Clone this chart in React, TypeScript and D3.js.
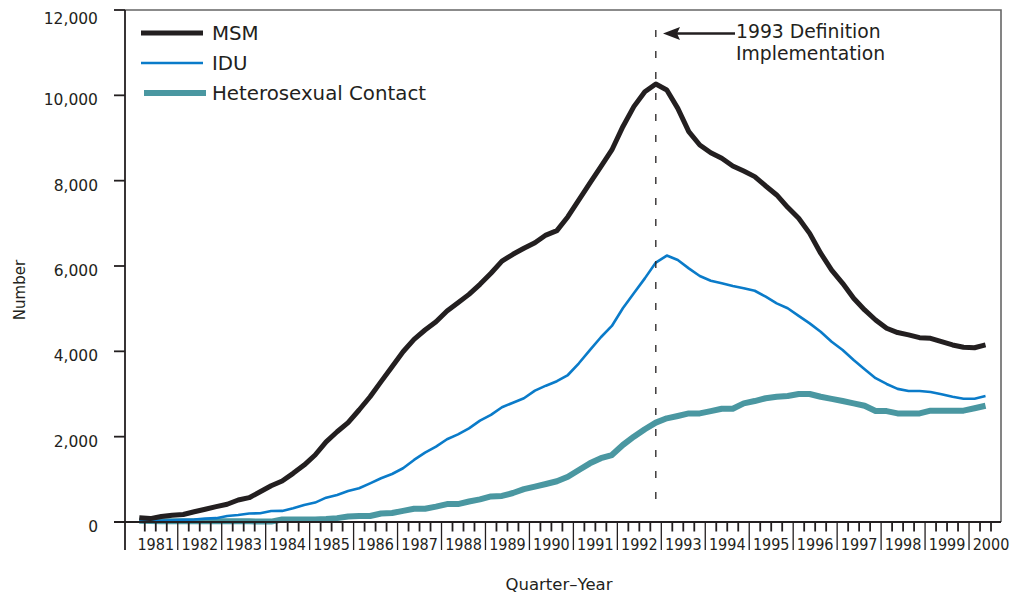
import React from "react";
import * as d3 from "d3";

// quarters from 1981 Q1 to 2000 Q2
const firstYear = 1981;
const msm = [
  100, 80, 130, 160, 175, 240, 300, 360, 415, 515, 570, 710, 850, 960, 1140, 1335,
  1570, 1880, 2115, 2330, 2625, 2935, 3290, 3640, 3990, 4280, 4500, 4695, 4945, 5140,
  5335, 5570, 5830, 6115, 6275, 6415, 6545, 6725, 6830, 7155, 7550, 7940, 8330, 8720,
  9265, 9735, 10085, 10265, 10125, 9695, 9150, 8835, 8655, 8525, 8345, 8225, 8095, 7875,
  7665, 7375, 7120, 6765, 6300, 5905, 5595, 5245, 4970, 4735, 4540, 4440, 4385, 4320,
  4305, 4225, 4150, 4095, 4085, 4150,
];
const idu = [
  20, 20, 30, 40, 50, 60, 80, 90, 140, 165, 200, 205, 258, 260, 320, 400,
  455, 570, 635, 725, 790, 905, 1025, 1125, 1260, 1455, 1625, 1765, 1940, 2055,
  2195, 2375, 2510, 2690, 2795, 2900, 3080, 3195, 3300, 3445, 3720, 4030, 4330, 4595,
  5010, 5360, 5710, 6080, 6245, 6140, 5945, 5765, 5655, 5595, 5530, 5480, 5420, 5280,
  5125, 5010, 4830, 4655, 4460, 4225, 4030, 3795, 3580, 3370, 3235, 3120, 3070, 3070,
  3045, 2995, 2935, 2890, 2890, 2955,
];
const hetero = [
  30, 25, 20, 20, 20, 20, 20, 20, 20, 20, 15, 10, 10, 60, 60, 60,
  60, 70, 90, 130, 140, 140, 200, 210, 260, 310, 310, 360, 420, 420,
  480, 530, 600, 610, 680, 770, 830, 890, 955, 1060, 1220, 1375, 1495, 1570,
  1805, 2000, 2175, 2330, 2430, 2485, 2545, 2545, 2600, 2655, 2655, 2780, 2835, 2900,
  2935, 2955, 3000, 3000, 2935, 2885, 2835, 2780, 2725, 2600, 2600, 2545, 2545, 2545,
  2610, 2610, 2610, 2610, 2665, 2725,
];
const yTicks = [0, 2000, 4000, 6000, 8000, 10000, 12000];
const years = d3.range(1981, 2001);
const definitionQuarter = 1992.875;
const noteLines = ["1993 Definition", "Implementation"];

const series = [
  { name: "MSM", values: msm, color: "#231f20", width: 5 },
  { name: "IDU", values: idu, color: "#0a7bc9", width: 2.6 },
  { name: "Heterosexual Contact", values: hetero, color: "#4a97a1", width: 6 },
];

const font = "'DejaVu Sans', Arial, sans-serif";
const ink = "#231f20";

export default function App() {
  const x = d3.scaleLinear().domain([1980.8, 2000.75]).range([125, 1002]);
  const y = d3.scaleLinear().domain([0, 12000]).range([522, 10]);
  const line = d3
    .line<number>()
    .x((_, i) => x(firstYear + (i + 0.5) / 4))
    .y((v) => y(v))
    .curve(d3.curveLinear);

  const quarterTicks = d3.range(1, 80).map((k) => firstYear + k / 4).filter((t) => t < 2000.7);

  return (
    <svg width={1011} height={596} style={{ position: "absolute", left: 0, top: 0, background: "#fff" }}>
      {/* frame */}
      <path d={`M${x(1980.8)},${y(12000)}H1001V${y(0)}`} fill="none" stroke="#666" strokeWidth={1.6} />

      {/* series */}
      {series
        .slice()
        .reverse()
        .map((s) => (
          <path
            key={s.name}
            d={line(s.values) || ""}
            fill="none"
            stroke={s.color}
            strokeWidth={s.width}
            strokeLinejoin="round"
          />
        ))}

      {/* axes */}
      <line x1={125} x2={125} y1={y(12000)} y2={550} stroke={ink} strokeWidth={1.8} />
      <line x1={114} x2={1001} y1={y(0)} y2={y(0)} stroke={ink} strokeWidth={1.8} />
      {yTicks.map((t) => (
        <g key={t}>
          <line x1={114} x2={125} y1={y(t)} y2={y(t)} stroke={ink} strokeWidth={1.8} />
          <text
            x={98}
            y={y(t) + (t === 12000 ? 9 : 5)}
            textAnchor="end"
            dominantBaseline="central"
            fontFamily={font}
            fontSize={15.5}
            fill={ink}
          >
            {d3.format(",")(t)}
          </text>
        </g>
      ))}
      {quarterTicks.map((t) => {
        const isYear = Math.abs(t - Math.round(t)) < 1e-6;
        return (
          <line
            key={t}
            x1={x(t)}
            x2={x(t)}
            y1={y(0)}
            y2={isYear ? 550 : 531.5}
            stroke={ink}
            strokeWidth={isYear ? 1.3 : 1.8}
          />
        );
      })}
      {years.map((yr) => (
        <text
          key={yr}
          x={x(yr + 0.5)}
          y={550}
          textAnchor="middle"
          fontFamily="'DejaVu Sans Condensed', 'DejaVu Sans', Arial, sans-serif"
          fontSize={16}
          fill={ink}
        >
          {yr}
        </text>
      ))}

      {/* axis titles */}
      <text x={559} y={590} textAnchor="middle" fontFamily={font} fontSize={16.5} fill={ink}>
        Quarter–Year
      </text>
      <text
        transform="translate(25,290) rotate(-90)"
        textAnchor="middle"
        fontFamily={font}
        fontSize={15}
        fill={ink}
      >
        Number
      </text>

      {/* definition annotation */}
      <line
        x1={x(definitionQuarter)}
        x2={x(definitionQuarter)}
        y1={30}
        y2={505}
        stroke={ink}
        strokeWidth={1.3}
        strokeDasharray="7,14"
      />
      <line x1={676} x2={735} y1={33.5} y2={33.5} stroke={ink} strokeWidth={2.5} />
      <path d="M663,33.5L680,27L677,33.5L680,40Z" fill={ink} />
      {noteLines.map((txt, i) => (
        <text key={txt} x={736} y={37.5 + i * 22} fontFamily={font} fontSize={18.8} fill={ink}>
          {txt}
        </text>
      ))}

      {/* legend */}
      {series.map((s, i) => (
        <g key={s.name} transform={`translate(0,${33 + i * 30})`}>
          <line x1={i === 2 ? 144 : 141} x2={i === 2 ? 206 : 203} y1={0} y2={0} stroke={s.color} strokeWidth={s.width} />
          <text x={212} y={0} dominantBaseline="central" fontFamily={font} fontSize={19.8} fill={ink}>
            {s.name}
          </text>
        </g>
      ))}
    </svg>
  );
}
